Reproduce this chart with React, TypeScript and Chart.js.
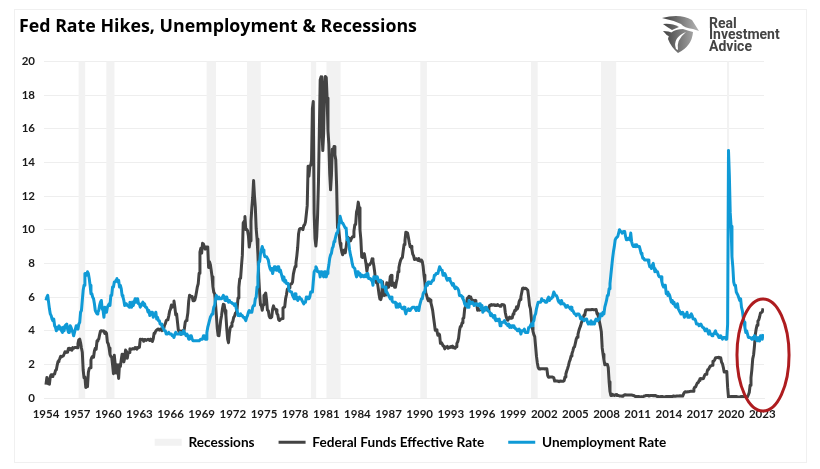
import React, { useEffect, useRef } from "react";
import { Chart, registerables } from "chart.js";

Chart.register(...registerables);

const titleText = "Fed Rate Hikes, Unemployment & Recessions";
const logoLines = ["Real", "Investment", "Advice"];
const firstMonth = 1954.5;
const tickYears = [1954, 1957, 1960, 1963, 1966, 1969, 1972, 1975, 1978, 1981, 1984, 1987, 1990, 1993, 1996, 1999, 2002, 2005, 2008, 2011, 2014, 2017, 2020, 2023];
const recessionRanges = [
  [1957.62, 1958.3], [1960.3, 1961.12], [1969.95, 1970.9], [1973.85, 1975.2], [1980.0, 1980.55],
  [1981.5, 1982.9], [1990.55, 1991.2], [2001.2, 2001.88], [2007.95, 2009.45], [2020.1, 2020.33],
];
const highlight = { xMin: 2020.97, xMax: 2026.18, yMin: -0.83, yMax: 5.95 };

const fedFunds = [
  0.8, 1.22, 1.07, 0.85, 0.83, 1.28,
  1.39, 1.29, 1.35, 1.43, 1.43, 1.64, 1.68, 1.96, 2.18, 2.24, 2.35, 2.48,
  2.45, 2.5, 2.5, 2.62, 2.75, 2.71, 2.75, 2.73, 2.95, 2.96, 2.88, 2.94,
  2.84, 3.0, 2.96, 3.0, 3.0, 3.0, 2.99, 3.24, 3.47, 3.5, 3.28, 2.98,
  2.72, 1.67, 1.2, 1.26, 0.63, 0.93, 0.68, 1.53, 1.76, 1.8, 2.27, 2.42,
  2.48, 2.43, 2.8, 2.96, 2.9, 3.39, 3.47, 3.5, 3.76, 3.98, 4.0, 3.99,
  3.99, 3.97, 3.84, 3.92, 3.85, 3.32, 3.23, 2.98, 2.6, 2.47, 2.44, 1.98,
  1.45, 2.54, 2.02, 1.49, 1.98, 1.73, 1.17, 2.0, 1.88, 2.26, 2.61, 2.33,
  2.15, 2.37, 2.85, 2.78, 2.36, 2.68, 2.71, 2.93, 2.9, 2.9, 2.94, 2.93,
  2.92, 3.0, 2.98, 2.9, 3.0, 2.99, 3.02, 3.49, 3.48, 3.5, 3.48, 3.38,
  3.48, 3.48, 3.43, 3.47, 3.5, 3.5, 3.42, 3.5, 3.45, 3.36, 3.52, 3.85,
  3.9, 3.98, 4.04, 4.09, 4.1, 4.04, 4.09, 4.12, 4.01, 4.08, 4.1, 4.32,
  4.42, 4.6, 4.65, 4.67, 4.9, 5.17, 5.3, 5.53, 5.4, 5.53, 5.76, 5.4,
  4.94, 5.0, 4.53, 4.05, 3.94, 3.98, 3.79, 3.9, 3.99, 3.88, 4.13, 4.51,
  4.61, 4.71, 5.05, 5.76, 6.11, 6.07, 6.03, 6.03, 5.78, 5.91, 5.82, 6.02,
  6.3, 6.61, 6.79, 7.41, 8.67, 8.9, 8.61, 9.19, 9.15, 9.0, 8.85, 8.97,
  8.98, 8.98, 7.76, 8.1, 7.94, 7.6, 7.21, 6.61, 6.29, 6.2, 5.6, 4.9,
  4.14, 3.72, 3.71, 4.16, 4.63, 4.91, 5.31, 5.57, 5.55, 5.2, 4.91, 4.14,
  3.5, 3.29, 3.83, 4.17, 4.27, 4.46, 4.55, 4.8, 4.87, 5.04, 5.06, 5.33,
  5.94, 6.58, 7.09, 7.12, 7.84, 8.49, 10.4, 10.5, 10.78, 10.01, 10.03, 9.95,
  9.65, 8.97, 9.35, 10.51, 11.31, 11.93, 12.92, 12.01, 11.34, 10.06, 9.45, 8.53,
  7.13, 6.24, 5.54, 5.49, 5.22, 5.55, 6.1, 6.14, 6.24, 5.82, 5.22, 5.2,
  4.87, 4.77, 4.84, 4.82, 5.29, 5.48, 5.31, 5.29, 5.25, 5.02, 4.95, 4.65,
  4.61, 4.68, 4.69, 4.73, 5.35, 5.39, 5.42, 5.9, 6.14, 6.47, 6.51, 6.56,
  6.7, 6.78, 6.79, 6.89, 7.36, 7.6, 7.81, 8.04, 8.45, 8.96, 9.76, 10.03,
  10.07, 10.06, 10.09, 10.01, 10.24, 10.29, 10.47, 10.94, 11.43, 13.77, 13.18, 13.78,
  13.82, 14.13, 17.19, 17.61, 10.98, 9.47, 9.03, 9.61, 10.87, 12.81, 15.85, 18.9,
  19.08, 15.93, 14.7, 15.72, 18.52, 19.1, 19.04, 17.82, 15.87, 15.08, 13.31, 12.37,
  13.22, 14.78, 14.68, 14.94, 14.45, 14.15, 12.59, 10.12, 10.31, 9.71, 9.2, 8.95,
  8.68, 8.51, 8.77, 8.8, 8.63, 8.98, 9.37, 9.56, 9.45, 9.48, 9.34, 9.47,
  9.56, 9.59, 9.91, 10.29, 10.32, 11.06, 11.23, 11.64, 11.3, 9.99, 9.43, 8.38,
  8.35, 8.5, 8.58, 8.27, 7.97, 7.53, 7.88, 7.9, 7.92, 7.99, 8.05, 8.27,
  8.14, 7.86, 7.48, 6.99, 6.85, 6.92, 6.56, 6.17, 5.89, 5.85, 6.04, 6.91,
  6.43, 6.1, 6.13, 6.37, 6.85, 6.73, 6.58, 6.73, 7.22, 7.29, 6.69, 6.77,
  6.83, 6.58, 6.58, 6.87, 7.09, 7.51, 7.75, 8.01, 8.19, 8.3, 8.35, 8.76,
  9.12, 9.36, 9.85, 9.84, 9.81, 9.53, 9.24, 8.99, 9.02, 8.84, 8.55, 8.45,
  8.23, 8.24, 8.28, 8.26, 8.18, 8.29, 8.15, 8.13, 8.2, 8.11, 7.81, 7.31,
  6.91, 6.25, 6.12, 5.91, 5.78, 5.9, 5.82, 5.66, 5.45, 5.21, 4.81, 4.43,
  4.03, 4.06, 3.98, 3.73, 3.82, 3.76, 3.25, 3.3, 3.22, 3.1, 3.09, 2.92,
  3.02, 3.03, 3.07, 2.96, 3.0, 3.04, 3.06, 3.03, 3.09, 2.99, 3.02, 2.96,
  3.05, 3.25, 3.34, 3.56, 4.01, 4.25, 4.26, 4.47, 4.73, 4.76, 5.29, 5.45,
  5.53, 5.92, 5.98, 6.05, 6.01, 6.0, 5.85, 5.74, 5.8, 5.76, 5.8, 5.6,
  5.56, 5.22, 5.31, 5.22, 5.24, 5.27, 5.4, 5.22, 5.3, 5.24, 5.31, 5.29,
  5.25, 5.19, 5.39, 5.51, 5.5, 5.56, 5.52, 5.54, 5.54, 5.5, 5.52, 5.5,
  5.56, 5.51, 5.49, 5.45, 5.49, 5.56, 5.54, 5.55, 5.51, 5.07, 4.83, 4.68,
  4.63, 4.76, 4.81, 4.74, 4.74, 4.76, 4.99, 5.07, 5.22, 5.2, 5.42, 5.3,
  5.45, 5.73, 5.85, 6.02, 6.27, 6.53, 6.54, 6.5, 6.52, 6.51, 6.51, 6.4,
  5.98, 5.49, 5.31, 4.8, 4.21, 3.97, 3.77, 3.65, 3.07, 2.49, 2.09, 1.82,
  1.73, 1.74, 1.73, 1.75, 1.75, 1.75, 1.73, 1.74, 1.75, 1.75, 1.34, 1.24,
  1.24, 1.26, 1.25, 1.26, 1.26, 1.22, 1.01, 1.03, 1.01, 1.01, 1.0, 0.98,
  1.0, 1.01, 1.0, 1.0, 1.0, 1.03, 1.26, 1.43, 1.61, 1.76, 1.93, 2.16,
  2.28, 2.5, 2.63, 2.79, 3.0, 3.04, 3.26, 3.5, 3.62, 3.78, 4.0, 4.16,
  4.29, 4.49, 4.59, 4.79, 4.94, 4.99, 5.24, 5.25, 5.25, 5.25, 5.25, 5.24,
  5.25, 5.26, 5.26, 5.25, 5.25, 5.25, 5.26, 5.02, 4.94, 4.76, 4.49, 4.24,
  3.94, 2.98, 2.61, 2.28, 1.98, 2.0, 2.01, 2.0, 1.81, 0.97, 0.39, 0.16,
  0.15, 0.22, 0.18, 0.15, 0.18, 0.21, 0.16, 0.16, 0.15, 0.12, 0.12, 0.12,
  0.11, 0.13, 0.16, 0.2, 0.2, 0.18, 0.18, 0.19, 0.19, 0.19, 0.19, 0.18,
  0.17, 0.16, 0.14, 0.1, 0.09, 0.09, 0.07, 0.1, 0.08, 0.07, 0.08, 0.07,
  0.08, 0.1, 0.13, 0.14, 0.16, 0.16, 0.16, 0.13, 0.14, 0.16, 0.16, 0.16,
  0.14, 0.15, 0.14, 0.15, 0.11, 0.09, 0.09, 0.08, 0.08, 0.09, 0.08, 0.09,
  0.07, 0.07, 0.08, 0.09, 0.09, 0.1, 0.09, 0.09, 0.09, 0.09, 0.09, 0.12,
  0.11, 0.11, 0.11, 0.12, 0.12, 0.13, 0.13, 0.14, 0.14, 0.12, 0.12, 0.24,
  0.34, 0.38, 0.36, 0.37, 0.37, 0.38, 0.39, 0.4, 0.4, 0.4, 0.41, 0.54,
  0.65, 0.66, 0.79, 0.9, 0.91, 1.04, 1.15, 1.16, 1.15, 1.15, 1.16, 1.3,
  1.41, 1.42, 1.51, 1.69, 1.7, 1.82, 1.91, 1.91, 1.95, 2.19, 2.2, 2.27,
  2.4, 2.4, 2.41, 2.42, 2.39, 2.38, 2.4, 2.13, 2.04, 1.83, 1.55, 1.55,
  1.55, 1.58, 0.65, 0.05, 0.05, 0.08, 0.09, 0.1, 0.09, 0.09, 0.09, 0.09,
  0.09, 0.08, 0.07, 0.07, 0.06, 0.08, 0.1, 0.09, 0.08, 0.08, 0.08, 0.08,
  0.08, 0.08, 0.2, 0.33, 0.77, 1.21, 1.68, 2.33, 2.56, 3.08, 3.78, 4.1,
  4.33, 4.57, 4.65, 4.83, 5.06, 5.08, 5.12, 5.33,
];

const unemployment = [
  5.8, 6.0, 6.1, 5.7, 5.3, 5.0,
  4.9, 4.7, 4.6, 4.7, 4.3, 4.2, 4.0, 4.2, 4.1, 4.3, 4.2, 4.2,
  4.0, 3.9, 4.2, 4.0, 4.3, 4.3, 4.4, 4.1, 3.9, 3.9, 4.3, 4.2,
  4.2, 3.9, 3.7, 3.9, 4.1, 4.3, 4.2, 4.1, 4.4, 4.5, 5.1, 5.2,
  5.8, 6.4, 6.7, 7.4, 7.4, 7.3, 7.5, 7.4, 7.1, 6.7, 6.2, 6.2,
  6.0, 5.9, 5.6, 5.2, 5.1, 5.0, 5.1, 5.2, 5.5, 5.7, 5.8, 5.3,
  5.2, 4.8, 5.4, 5.2, 5.1, 5.4, 5.5, 5.6, 5.5, 6.1, 6.1, 6.6,
  6.6, 6.9, 6.9, 7.0, 7.1, 6.9, 7.0, 6.6, 6.7, 6.5, 6.1, 6.0,
  5.8, 5.5, 5.6, 5.6, 5.5, 5.5, 5.4, 5.7, 5.6, 5.4, 5.7, 5.5,
  5.7, 5.9, 5.7, 5.7, 5.9, 5.6, 5.6, 5.4, 5.5, 5.5, 5.7, 5.5,
  5.6, 5.4, 5.4, 5.3, 5.1, 5.2, 4.9, 5.0, 5.1, 5.1, 4.8, 5.0,
  4.9, 5.1, 4.7, 4.8, 4.6, 4.6, 4.4, 4.4, 4.3, 4.2, 4.1, 4.0,
  4.0, 3.8, 3.8, 3.8, 3.9, 3.8, 3.8, 3.8, 3.7, 3.7, 3.6, 3.8,
  3.9, 3.8, 3.8, 3.8, 3.8, 3.9, 3.8, 3.8, 3.8, 4.0, 3.9, 3.8,
  3.7, 3.8, 3.7, 3.5, 3.5, 3.7, 3.7, 3.5, 3.4, 3.4, 3.4, 3.4,
  3.4, 3.4, 3.4, 3.4, 3.4, 3.5, 3.5, 3.5, 3.7, 3.7, 3.5, 3.5,
  3.9, 4.2, 4.4, 4.6, 4.8, 4.9, 5.0, 5.1, 5.4, 5.5, 5.9, 6.1,
  5.9, 5.9, 6.0, 5.9, 5.9, 5.9, 6.0, 6.1, 6.0, 5.8, 6.0, 6.0,
  5.8, 5.7, 5.8, 5.7, 5.7, 5.7, 5.6, 5.6, 5.5, 5.6, 5.3, 5.2,
  4.9, 5.0, 4.9, 5.0, 4.9, 4.9, 4.8, 4.8, 4.8, 4.6, 4.8, 4.9,
  5.1, 5.2, 5.1, 5.1, 5.1, 5.4, 5.5, 5.5, 5.9, 6.0, 6.6, 7.2,
  8.1, 8.1, 8.6, 8.8, 9.0, 8.8, 8.6, 8.4, 8.4, 8.4, 8.3, 8.2,
  7.9, 7.7, 7.6, 7.7, 7.4, 7.6, 7.8, 7.8, 7.6, 7.7, 7.8, 7.8,
  7.5, 7.6, 7.4, 7.2, 7.0, 7.2, 6.9, 7.0, 6.8, 6.8, 6.8, 6.4,
  6.4, 6.3, 6.3, 6.1, 6.0, 5.9, 6.2, 5.9, 6.0, 5.8, 5.9, 6.0,
  5.9, 5.9, 5.8, 5.8, 5.6, 5.7, 5.7, 6.0, 5.9, 6.0, 5.9, 6.0,
  6.3, 6.3, 6.3, 6.9, 7.5, 7.6, 7.8, 7.7, 7.5, 7.5, 7.5, 7.2,
  7.5, 7.4, 7.4, 7.2, 7.5, 7.5, 7.2, 7.4, 7.6, 7.9, 8.3, 8.5,
  8.6, 8.9, 9.0, 9.3, 9.4, 9.6, 9.8, 9.8, 10.1, 10.4, 10.8, 10.8,
  10.4, 10.4, 10.3, 10.2, 10.1, 10.1, 9.4, 9.5, 9.2, 8.8, 8.5, 8.3,
  8.0, 7.8, 7.8, 7.7, 7.4, 7.2, 7.5, 7.5, 7.3, 7.4, 7.2, 7.3,
  7.3, 7.2, 7.2, 7.3, 7.2, 7.4, 7.4, 7.1, 7.1, 7.1, 7.0, 7.0,
  6.7, 7.2, 7.2, 7.1, 7.2, 7.2, 7.0, 6.9, 7.0, 7.0, 6.9, 6.6,
  6.6, 6.6, 6.6, 6.3, 6.3, 6.2, 6.1, 6.0, 5.9, 6.0, 5.8, 5.7,
  5.7, 5.7, 5.7, 5.4, 5.6, 5.4, 5.4, 5.6, 5.4, 5.4, 5.3, 5.3,
  5.4, 5.2, 5.0, 5.2, 5.2, 5.3, 5.2, 5.2, 5.3, 5.3, 5.4, 5.4,
  5.4, 5.3, 5.2, 5.4, 5.4, 5.2, 5.5, 5.7, 5.9, 5.9, 6.2, 6.3,
  6.4, 6.6, 6.8, 6.7, 6.9, 6.9, 6.8, 6.9, 6.9, 7.0, 7.0, 7.3,
  7.3, 7.4, 7.4, 7.4, 7.6, 7.8, 7.7, 7.6, 7.6, 7.3, 7.4, 7.4,
  7.3, 7.1, 7.0, 7.1, 7.1, 7.0, 6.9, 6.8, 6.7, 6.8, 6.6, 6.5,
  6.6, 6.6, 6.5, 6.4, 6.1, 6.1, 6.1, 6.0, 5.9, 5.8, 5.6, 5.5,
  5.6, 5.4, 5.4, 5.8, 5.6, 5.6, 5.7, 5.7, 5.6, 5.5, 5.6, 5.6,
  5.6, 5.5, 5.5, 5.6, 5.6, 5.3, 5.5, 5.1, 5.2, 5.2, 5.4, 5.4,
  5.3, 5.2, 5.2, 5.1, 4.9, 5.0, 4.9, 4.8, 4.9, 4.7, 4.6, 4.7,
  4.6, 4.6, 4.7, 4.3, 4.4, 4.5, 4.5, 4.5, 4.6, 4.5, 4.4, 4.4,
  4.3, 4.4, 4.2, 4.3, 4.2, 4.3, 4.3, 4.2, 4.2, 4.1, 4.1, 4.0,
  4.0, 4.1, 4.0, 3.8, 4.0, 4.0, 4.0, 4.1, 3.9, 3.9, 3.9, 3.9,
  4.2, 4.2, 4.3, 4.4, 4.3, 4.5, 4.6, 4.9, 5.0, 5.3, 5.5, 5.7,
  5.7, 5.7, 5.7, 5.9, 5.8, 5.8, 5.8, 5.7, 5.7, 5.7, 5.9, 6.0,
  5.8, 5.9, 5.9, 6.0, 6.1, 6.3, 6.2, 6.1, 6.1, 6.0, 5.8, 5.7,
  5.7, 5.6, 5.8, 5.6, 5.6, 5.6, 5.5, 5.4, 5.4, 5.5, 5.4, 5.4,
  5.3, 5.4, 5.2, 5.2, 5.1, 5.0, 5.0, 4.9, 5.0, 5.0, 5.0, 4.9,
  4.7, 4.8, 4.7, 4.7, 4.6, 4.6, 4.7, 4.7, 4.5, 4.4, 4.5, 4.4,
  4.6, 4.5, 4.4, 4.5, 4.4, 4.6, 4.7, 4.6, 4.7, 4.7, 4.7, 5.0,
  5.0, 4.9, 5.1, 5.0, 5.4, 5.6, 5.8, 6.1, 6.1, 6.5, 6.8, 7.3,
  7.8, 8.3, 8.7, 9.0, 9.4, 9.5, 9.5, 9.6, 9.8, 10.0, 9.9, 9.9,
  9.8, 9.8, 9.9, 9.9, 9.6, 9.4, 9.4, 9.5, 9.5, 9.4, 9.8, 9.3,
  9.1, 9.0, 9.0, 9.1, 9.0, 9.1, 9.0, 9.0, 9.0, 8.8, 8.6, 8.5,
  8.3, 8.3, 8.2, 8.2, 8.2, 8.2, 8.2, 8.0, 7.8, 7.8, 7.7, 7.9,
  8.0, 7.7, 7.5, 7.6, 7.5, 7.5, 7.3, 7.2, 7.2, 7.2, 6.9, 6.7,
  6.6, 6.7, 6.7, 6.2, 6.3, 6.1, 6.2, 6.1, 5.9, 5.7, 5.8, 5.6,
  5.7, 5.5, 5.4, 5.4, 5.6, 5.3, 5.2, 5.1, 5.0, 5.0, 5.1, 5.0,
  4.8, 4.9, 5.0, 5.1, 4.8, 4.9, 4.8, 4.9, 5.0, 4.9, 4.7, 4.7,
  4.7, 4.6, 4.4, 4.4, 4.4, 4.3, 4.3, 4.4, 4.3, 4.2, 4.2, 4.1,
  4.0, 4.1, 4.0, 4.0, 3.8, 4.0, 3.8, 3.8, 3.7, 3.8, 3.8, 3.9,
  4.0, 3.8, 3.8, 3.7, 3.6, 3.6, 3.7, 3.6, 3.5, 3.6, 3.6, 3.6,
  3.5, 3.5, 4.4, 14.7, 13.2, 11.0, 10.2, 8.4, 7.8, 6.9, 6.7, 6.7,
  6.3, 6.2, 6.1, 6.1, 5.8, 5.9, 5.4, 5.2, 4.8, 4.5, 4.2, 3.9,
  4.0, 3.8, 3.6, 3.6, 3.6, 3.6, 3.5, 3.6, 3.5, 3.7, 3.6, 3.5,
  3.4, 3.6, 3.5, 3.4, 3.7, 3.6, 3.5, 3.8,
];

const toPoints = (values: number[]) => values.map((y, i) => ({ x: firstMonth + i / 12, y }));
const recessionPoints = recessionRanges.flatMap(([a, b]) => [
  { x: a, y: 20 }, { x: b, y: 20 }, { x: b, y: null },
]);

const COL_FED = "#434343";
const COL_UN = "#0f9ad6";
const COL_REC = "#f2f2f2";
const TICK_FONT = { family: "Lato", size: 11.5, weight: "bold" as const };

const decorations = {
  id: "decorations",
  afterLayout(chart: any) {
    chart.legend.left += 19;
    chart.legend.right += 19;
    chart.legend.top -= 12.7;
    chart.legend.bottom -= 12.7;
  },
  beforeDraw(chart: any) {
    const c = chart.ctx;
    c.save();
    c.fillStyle = "#fff";
    c.fillRect(0, 0, chart.width, chart.height);
    c.strokeStyle = "#f0f0f0";
    c.lineWidth = 1;
    c.strokeRect(14.5, 9.5, 792, 453);
    c.restore();
  },
  afterDraw(chart: any) {
    const c = chart.ctx;
    const { x, y } = chart.scales;
    const l = x.getPixelForValue(highlight.xMin);
    const r = x.getPixelForValue(highlight.xMax);
    const t = y.getPixelForValue(highlight.yMax);
    const b = y.getPixelForValue(highlight.yMin);
    c.save();
    c.strokeStyle = "#ae1c1f";
    c.lineWidth = 3;
    c.beginPath();
    c.ellipse((l + r) / 2, (t + b) / 2, (r - l) / 2 - 1, (b - t) / 2 - 1, 0, 0, Math.PI * 2);
    c.stroke();

    // logo emblem
    const g = c.createLinearGradient(661, 0, 699, 0);
    g.addColorStop(0, "#3a3a3a");
    g.addColorStop(1, "#b5b5b5");
    c.fillStyle = g;
    c.beginPath();
    c.moveTo(662, 18);
    c.quadraticCurveTo(680, 13, 692, 20);
    c.lineTo(699, 31);
    c.lineTo(693, 29);
    c.quadraticCurveTo(684, 28, 681, 24);
    c.quadraticCurveTo(672, 20, 662, 18);
    c.fill();
    c.beginPath();
    c.moveTo(663, 24);
    c.quadraticCurveTo(672, 23, 679, 27);
    c.lineTo(672, 30);
    c.quadraticCurveTo(667, 27, 663, 24);
    c.fill();
    c.beginPath();
    c.moveTo(663, 31);
    c.quadraticCurveTo(669, 31, 673, 33);
    c.lineTo(670, 37);
    c.quadraticCurveTo(666, 35, 663, 31);
    c.fill();
    c.beginPath();
    c.moveTo(668, 39);
    c.quadraticCurveTo(670, 29, 683, 29);
    c.quadraticCurveTo(689, 31, 693, 32);
    c.quadraticCurveTo(692, 46, 678, 53);
    c.quadraticCurveTo(671, 47, 668, 39);
    c.fill();
    c.fillStyle = "#fff";
    c.beginPath();
    c.moveTo(676, 49);
    c.quadraticCurveTo(672, 38, 686, 32);
    c.quadraticCurveTo(676, 40, 678, 50);
    c.fill();

    c.fillStyle = "#444";
    c.font = "bold 14px Roboto";
    c.textAlign = "left";
    c.textBaseline = "middle";
    logoLines.forEach((line, i) => c.fillText(line, 709, 24 + i * 11.7));
    c.restore();
  },
};

export default function App() {
  const ref = useRef<HTMLCanvasElement>(null);
  useEffect(() => {
    document.body.style.margin = "0";
    const chart = new Chart(ref.current as HTMLCanvasElement, {
      type: "line",
      data: {
        datasets: [
          {
            label: "Recessions",
            data: recessionPoints as any,
            borderWidth: 0,
            borderColor: COL_REC,
            backgroundColor: COL_REC,
            fill: "origin",
            pointRadius: 0,
            spanGaps: false,
            order: 3,
          },
          {
            label: "Federal Funds Effective Rate",
            data: toPoints(fedFunds),
            borderColor: COL_FED,
            backgroundColor: COL_FED,
            borderWidth: 3,
            borderJoinStyle: "round",
            pointRadius: 0,
            tension: 0,
            order: 2,
          },
          {
            label: "Unemployment Rate",
            data: toPoints(unemployment),
            borderColor: COL_UN,
            backgroundColor: COL_UN,
            borderWidth: 3,
            borderJoinStyle: "round",
            pointRadius: 0,
            tension: 0,
            order: 1,
          },
        ],
      },
      options: {
        animation: false,
        responsive: false,
        parsing: false,
        normalized: true,
        layout: { padding: { left: 19, right: 56, top: 16, bottom: -2.7 } },
        scales: {
          x: {
            type: "linear",
            min: 1954.31,
            max: 2023.67,
            afterBuildTicks(s: any) {
              s.ticks = tickYears.map((v) => ({ value: v + 0.5 }));
            },
            afterFit(s: any) {
              s.height = 26;
            },
            ticks: {
              autoSkip: false,
              maxRotation: 0,
              padding: 1,
              color: "#1a1a1a",
              font: TICK_FONT,
              callback: (v: any) => String(Math.round(Number(v) - 0.5)),
            },
            grid: { display: false },
            border: { color: "#ececec" },
          },
          y: {
            min: 0,
            max: 20,
            afterFit(s: any) {
              s.width = 25;
            },
            ticks: { stepSize: 2, padding: 9, color: "#1a1a1a", font: TICK_FONT },
            grid: { color: "#eeeeee", drawTicks: false, lineWidth: 1 },
            border: { display: false },
          },
        },
        plugins: {
          title: {
            display: true,
            text: titleText,
            align: "start",
            color: "#000",
            font: { family: "Open Sans", size: 17.8, weight: "bold" },
            padding: { top: 0, bottom: 24 },
          },
          tooltip: { enabled: false },
          legend: {
            position: "bottom",
            labels: {
              color: "#111",
              font: { family: "Lato", size: 13.6, weight: "bold" },
              usePointStyle: true,
              pointStyle: "line",
              pointStyleWidth: 27,
              padding: 24,
              generateLabels: () => [
                { text: "Recessions", strokeStyle: COL_REC, fillStyle: COL_REC, lineWidth: 7, pointStyle: "line" },
                { text: "Federal Funds Effective Rate", strokeStyle: COL_FED, fillStyle: COL_FED, lineWidth: 3, pointStyle: "line" },
                { text: "Unemployment Rate", strokeStyle: COL_UN, fillStyle: COL_UN, lineWidth: 3, pointStyle: "line" },
              ] as any,
            },
          },
        },
      } as any,
      plugins: [decorations],
    });
    return () => chart.destroy();
  }, []);
  return <canvas ref={ref} width={820} height={469} style={{ display: "block" }} />;
}
